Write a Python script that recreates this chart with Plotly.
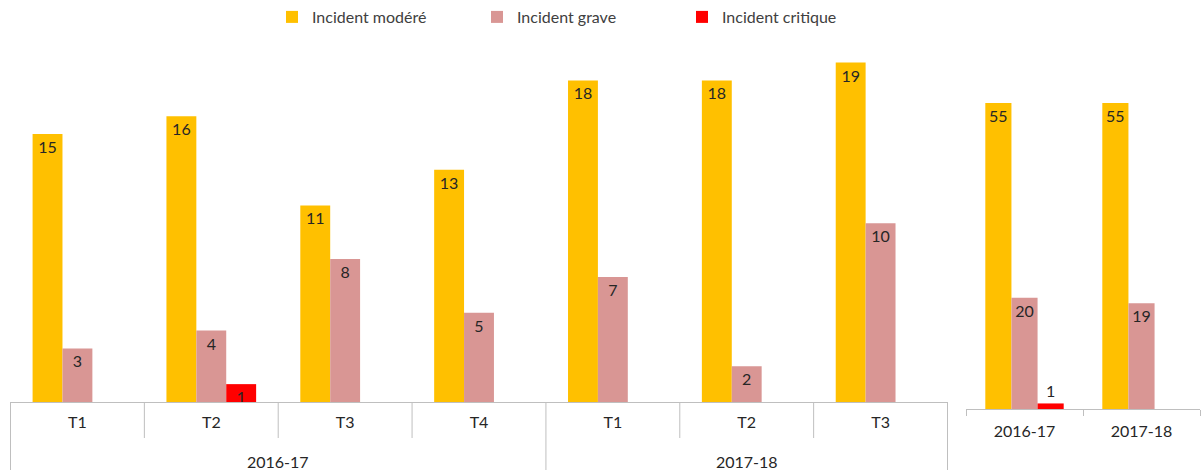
import plotly.graph_objects as go

# ---- data ----
years_q = ["2016-17", "2016-17", "2016-17", "2016-17", "2017-18", "2017-18", "2017-18"]
quarters = ["T1", "T2", "T3", "T4", "T1", "T2", "T3"]
q_modere = [15, 16, 11, 13, 18, 18, 19]
q_grave = [3, 4, 8, 5, 7, 2, 10]
q_critique = [None, 1, None, None, None, None, None]

years = ["2016-17", "2017-18"]
y_modere = [55, 55]
y_grave = [20, 19]
y_critique = [1, None]

series_names = ["Incident modéré", "Incident grave", "Incident critique"]
colors = ["#FFC000", "#D99694", "#FF0000"]

FONT = "Lato"
FS = 16
TXT = "#262626"
GRID = "#BFBFBF"
W, H = 1203, 470

fig = go.Figure()

keys = [f"{y} {q}" for y, q in zip(years_q, quarters)]
for name, vals, col in zip(series_names, [q_modere, q_grave, q_critique], colors):
    fig.add_trace(go.Bar(
        x=keys, y=vals, name=name, marker=dict(color=col, line=dict(width=0)),
        text=[("" if v is None else str(v)) for v in vals],
        textposition="inside", insidetextanchor="end", textangle=0,
        textfont=dict(family=FONT, size=FS, color=TXT),
        constraintext="none", cliponaxis=False,
        xaxis="x", yaxis="y", legendgroup=name,
    ))

for name, vals, col in zip(series_names, [y_modere, y_grave, y_critique], colors):
    small = [v is not None and v < 3 for v in vals]
    fig.add_trace(go.Bar(
        x=years, y=vals, name=name, marker=dict(color=col, line=dict(width=0)),
        text=[("" if v is None else str(v)) for v in vals],
        textposition=["outside" if s else "inside" for s in small],
        insidetextanchor="end", textangle=0,
        textfont=dict(family=FONT, size=FS, color=TXT),
        constraintext="none", cliponaxis=False,
        xaxis="x2", yaxis="y2", legendgroup=name, showlegend=False,
    ))

left_base, right_base, top = 402, 409, 40
lscale = 268 / 15.0
rscale = 306 / 55.0

# box dividers under the left axis and year labels
shapes = []
annotations = []
n = len(keys)
base_p = (H - left_base) / H
short_p = (H - 438) / H
for i in range(n + 1):
    if i == 0 or i == n or years_q[i] != years_q[i - 1]:
        y1 = 0
    else:
        y1 = short_p
    shapes.append(dict(type="line", xref="x", yref="paper", x0=i - 0.5, x1=i - 0.5,
                       y0=base_p, y1=y1, line=dict(color=GRID, width=1)))
for yr in dict.fromkeys(years_q):
    idx = [i for i, y in enumerate(years_q) if y == yr]
    annotations.append(dict(xref="x", yref="paper", x=sum(idx) / len(idx), y=(H - 461) / H,
                            text=yr, showarrow=False, xanchor="center", yanchor="middle",
                            font=dict(family=FONT, size=FS, color=TXT)))

fig.update_layout(
    width=W, height=H,
    margin=dict(l=0, r=0, t=0, b=0),
    paper_bgcolor="white", plot_bgcolor="white",
    barmode="group", bargap=0.33, bargroupgap=0,
    font=dict(family=FONT, size=FS, color=TXT),
    showlegend=True,
    legend=dict(orientation="h", x=272 / W, xanchor="left", y=1 - 17 / H, yanchor="middle",
                font=dict(family=FONT, size=FS, color="#404040"),
                entrywidth=160, entrywidthmode="pixels", bgcolor="rgba(0,0,0,0)"),
    xaxis=dict(type="category", domain=[10 / W, 948 / W], anchor="y",
               tickmode="array", tickvals=keys, ticktext=quarters,
               showline=True, linecolor=GRID, linewidth=1,
               ticks="", ticklabelstandoff=6,
               tickfont=dict(family=FONT, size=FS, color=TXT),
               showgrid=False, zeroline=False, automargin=False),
    yaxis=dict(domain=[(H - left_base) / H, (H - top) / H], range=[0, (left_base - top) / lscale],
               visible=False, showgrid=False, zeroline=False),
    xaxis2=dict(type="category", domain=[966 / W, 1200 / W], anchor="y2",
                showline=True, linecolor=GRID, linewidth=1,
                ticks="outside", tickson="boundaries", ticklen=6, tickcolor=GRID,
                ticklabelstandoff=8,
                tickfont=dict(family=FONT, size=FS, color=TXT),
                showgrid=False, zeroline=False, automargin=False),
    yaxis2=dict(domain=[(H - right_base) / H, (H - top) / H], range=[0, (right_base - top) / rscale],
                visible=False, showgrid=False, zeroline=False),
    shapes=shapes, annotations=annotations,
)

fig.write_html("out.html")
